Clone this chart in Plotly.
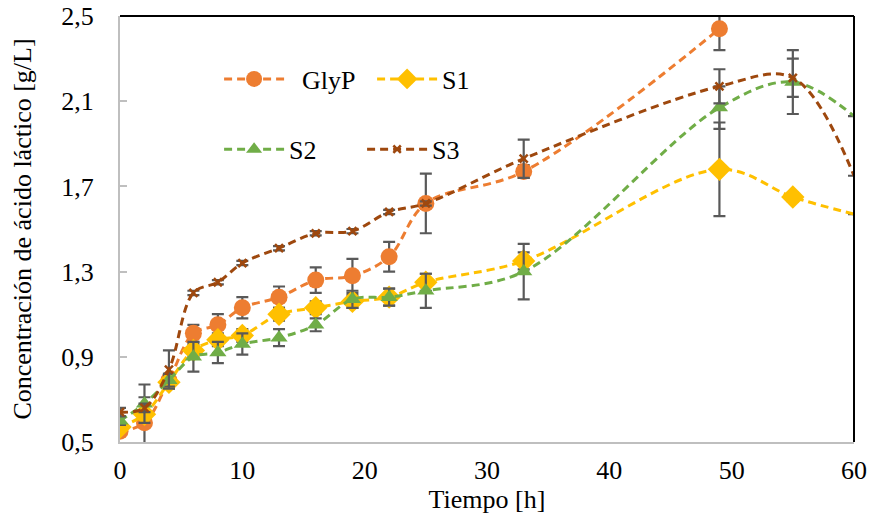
import plotly.graph_objects as go

# Time points [h]
t_all = [0, 2, 4, 6, 8, 10, 13, 16, 19, 22, 25, 33, 49, 55, 60]
t_glyp = [0, 2, 4, 6, 8, 10, 13, 16, 19, 22, 25, 33, 49]

glyp = [0.55, 0.59, 0.79, 1.01, 1.05, 1.13, 1.18, 1.26, 1.28, 1.37, 1.62, 1.77, 2.44]
glyp_err = [0.02, 0.12, 0.03, 0.04, 0.05, 0.05, 0.05, 0.06, 0.08, 0.07, 0.14, 0.03, 0.10]

s1 = [0.57, 0.63, 0.78, 0.93, 0.98, 1.00, 1.10, 1.13, 1.16, 1.18, 1.25, 1.35, 1.78, 1.65, 1.57]
s1_err = [0.02, 0.02, 0.03, 0.03, 0.03, 0.03, 0.03, 0.03, 0.03, 0.04, 0.04, 0.04, 0.22, 0.02, 0]

s2 = [0.60, 0.68, 0.79, 0.90, 0.92, 0.96, 0.99, 1.05, 1.17, 1.18, 1.21, 1.30, 2.07, 2.19, 2.03]
s2_err = [0.02, 0.09, 0.03, 0.07, 0.05, 0.05, 0.04, 0.03, 0.04, 0.04, 0.08, 0.13, 0.10, 0.15, 0]

s3 = [0.64, 0.66, 0.84, 1.20, 1.25, 1.34, 1.41, 1.48, 1.49, 1.58, 1.62, 1.83, 2.17, 2.21, 1.75]
s3_err = [0.02, 0.02, 0.09, 0.01, 0.01, 0.01, 0.01, 0.01, 0.01, 0.01, 0.01, 0.09, 0.08, 0.09, 0]

y_ticks = [0.5, 0.9, 1.3, 1.7, 2.1, 2.5]
x_ticks = [0, 10, 20, 30, 40, 50, 60]

FONT = 'Liberation Serif, "Times New Roman", Times, serif'
FS = 26
ERR = dict(type="data", visible=True, color="#595959", thickness=2.2, width=6)

def sizes(n, s, hide_last):
    out = [s] * n
    if hide_last:
        out[-1] = 0
    return out

series = [
    ("GlyP", t_glyp, glyp, glyp_err, "#ED7D31", "circle", 17, False, "legend"),
    ("S1", t_all, s1, s1_err, "#FFC000", "diamond", 18, True, "legend"),
    ("S2", t_all, s2, s2_err, "#70AD47", "triangle-up", 15, True, "legend2"),
    ("S3", t_all, s3, s3_err, "#9E480E", "x-thin", 8, True, "legend2"),
]

fig = go.Figure()
for name, tx, vy, err, col, sym, sz, hide, leg in series:
    mk = dict(symbol=sym, size=sizes(len(tx), sz, hide), color=col, opacity=1,
              line=dict(width=2.5 if sym == "x-thin" else 0, color=col))
    fig.add_trace(go.Scatter(
        x=tx, y=vy, name=("  " + name if name == "GlyP" else name), mode="lines+markers",
        line=dict(color=col, width=3, dash="8px,5px", shape="spline", smoothing=1.0),
        marker=mk,
        error_y=dict(array=err, **ERR),
        legend=leg, cliponaxis=True,
    ))

fig.update_layout(
    width=871, height=517,
    margin=dict(l=120, r=17, t=16, b=75, autoexpand=False),
    paper_bgcolor="white", plot_bgcolor="white",
    separators=", ",
    font=dict(family=FONT, size=FS, color="black"),
    showlegend=True,
    legend=dict(orientation="h", x=0.135, y=0.852, xanchor="left", yanchor="middle",
                bgcolor="rgba(0,0,0,0)", font=dict(family=FONT, size=FS),
                entrywidth=78, itemwidth=60, tracegroupgap=0),
    legend2=dict(orientation="h", x=0.135, y=0.687, xanchor="left", yanchor="middle",
                 bgcolor="rgba(0,0,0,0)", font=dict(family=FONT, size=FS),
                 entrywidth=68, itemwidth=60, tracegroupgap=0),
    xaxis=dict(range=[0, 60], tickvals=x_ticks, showgrid=False, zeroline=False,
               showline=True, linecolor="#BFBFBF", linewidth=2, ticks="",
               automargin=False,
               tickfont=dict(family=FONT, size=FS), ticklabelstandoff=4,
               title=dict(text="Tiempo [h]", font=dict(family=FONT, size=FS), standoff=0)),
    yaxis=dict(range=[0.5, 2.5], tickvals=y_ticks, tickformat=".1f", showgrid=False,
               zeroline=False, showline=True, linecolor="#BFBFBF", linewidth=2,
               ticks="inside", ticklen=7, tickcolor="#BFBFBF", tickwidth=1.5,
               automargin=False, ticklabelstandoff=19,
               tickfont=dict(family=FONT, size=FS),
               title=dict(text="Concentración de ácido láctico [g/L]",
                          font=dict(family=FONT, size=FS), standoff=22)),
    shapes=[
        dict(type="line", xref="paper", yref="paper", x0=0, x1=1, y0=1, y1=1,
             line=dict(color="black", width=2)),
        dict(type="line", xref="paper", yref="paper", x0=1, x1=1, y0=0, y1=1,
             line=dict(color="black", width=2)),
    ],
)

fig.write_html("out.html")
